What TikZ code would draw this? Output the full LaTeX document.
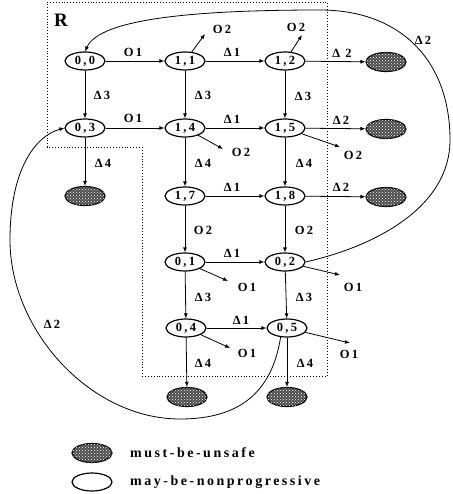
\documentclass[tikz,border=0pt]{standalone}
\usepackage{fontspec}
\setmainfont{Liberation Serif}
\newfontfamily\lblfont{Liberation Serif}[LetterSpace=18]
\newfontfamily\lgfont{Liberation Serif}[LetterSpace=18]
\usetikzlibrary{shapes.geometric,arrows.meta,patterns}
\begin{document}
\begin{tikzpicture}[x=1pt,y=-1pt,
  st/.style={ellipse, draw, line width=1.2pt, minimum width=40pt, minimum height=18pt, inner sep=0pt,
    font={\lblfont\bfseries\fontsize{12.5}{12.5}\selectfont}},
  bad/.style={ellipse, draw, line width=1.2pt, minimum width=40pt, minimum height=19pt, inner sep=0pt,
    fill=black!70, postaction={pattern=crosshatch dots, pattern color=white}},
  e/.style={-{Latex[length=5pt,width=4pt]}, line width=0.8pt},
  lb/.style={inner sep=0pt, font={\lblfont\bfseries\fontsize{12.5}{12.5}\selectfont}},
  lg/.style={inner sep=0pt, anchor=west, font={\lgfont\bfseries\fontsize{14}{14}\selectfont}},
  box/.style={dotted, line width=0.9pt}
]
\useasboundingbox (0,0) rectangle (452,494);
% region R
\draw[box] (47,2) -- (327,2) -- (327,376) -- (142,376) -- (142,147) -- (47,147) -- cycle;
\node[inner sep=0pt, font={\bfseries\fontsize{19}{19}\selectfont}] (R) at (61,20) {R};
% states
\node[st] (s00) at (85,61) {0,0};
\node[st] (s11) at (185,61) {1,1};
\node[st] (s12) at (285,61) {1,2};
\node[bad] (u1) at (386,62) {};
\node[st] (s03) at (85,128) {0,3};
\node[st] (s14) at (185,128) {1,4};
\node[st] (s15) at (285,128) {1,5};
\node[bad] (u2) at (386,129) {};
\node[bad] (u3) at (85,196) {};
\node[st] (s17) at (185,196) {1,7};
\node[st] (s18) at (285,196) {1,8};
\node[bad] (u4) at (386,197) {};
\node[st] (s01) at (185,262) {0,1};
\node[st] (s02) at (285,262) {0,2};
\node[st] (s04) at (186,328) {0,4};
\node[st] (s05) at (287,328) {0,5};
\node[bad] (u5) at (187,397) {};
\node[bad] (u6) at (287,397) {};
% free ends
\coordinate (t11) at (205,34);
\coordinate (t12) at (302,35);
\coordinate (t14) at (223,149);
\coordinate (t15) at (340,147);
\coordinate (t01) at (228,281);
\coordinate (t02) at (340,275);
\coordinate (t04) at (230,348);
\coordinate (t05) at (350,343);
% edges
\draw[e] (s00) -- (s11);
\draw[e] (s11) -- (s12);
\draw[e] (s12) -- (u1);
\draw[e] (s00) -- (s03);
\draw[e] (s11) -- (s14);
\draw[e] (s12) -- (s15);
\draw[e] (s03) -- (s14);
\draw[e] (s14) -- (s15);
\draw[e] (s15) -- (u2);
\draw[e] (s03) -- (u3);
\draw[e] (s14) -- (s17);
\draw[e] (s15) -- (s18);
\draw[e] (s17) -- (s18);
\draw[e] (s18) -- (u4);
\draw[e] (s17) -- (s01);
\draw[e] (s18) -- (s02);
\draw[e] (s01) -- (s02);
\draw[e] (s01) -- (s04);
\draw[e] (s02) -- (s05);
\draw[e] (s04) -- (s05);
\draw[e] (s04) -- (u5);
\draw[e] (s05) -- (u6);
\draw[e] (s11) -- (t11);
\draw[e] (s12) -- (t12);
\draw[e] (s14) -- (t14);
\draw[e] (s15) -- (t15);
\draw[e] (s01) -- (t01);
\draw[e] (s02) -- (t02);
\draw[e] (s04) -- (t04);
\draw[e] (s05) -- (t05);
% long curves
\draw[e] (s02.east) .. controls (380,245) and (450,205) .. (450,140)
   .. controls (450,60) and (400,10) .. (320,10)
   .. controls (200,10) and (100,18) .. (s00.north);
\draw[e] (s05.235) .. controls (272,392) and (240,419) .. (180,419)
   .. controls (90,419) and (10,330) .. (10,240)
   .. controls (10,170) and (35,136) .. (s03.west);
% labels
\node[lb] (l1) at (133,52) {O1};
\node[lb] (l2) at (232,52) {Δ1};
\node[lb] (l3) at (342,53) {Δ 2};
\node[lb] (l4) at (102,95) {Δ3};
\node[lb] (l5) at (203,95) {Δ3};
\node[lb] (l6) at (303,96) {Δ3};
\node[lb] (l7) at (133,118) {O1};
\node[lb] (l8) at (232,119) {Δ1};
\node[lb] (l9) at (341,120) {Δ2};
\node[lb] (l10) at (103,163) {Δ4};
\node[lb] (l11) at (203,163) {Δ4};
\node[lb] (l12) at (304,163) {Δ4};
\node[lb] (l13) at (232,187) {Δ1};
\node[lb] (l14) at (341,187) {Δ2};
\node[lb] (l15) at (203,230) {O2};
\node[lb] (l16) at (304,230) {O2};
\node[lb] (l17) at (232,253) {Δ1};
\node[lb] (l18) at (203,297) {Δ3};
\node[lb] (l19) at (304,297) {Δ3};
\node[lb] (l20) at (241,320) {Δ1};
\node[lb] (l21) at (203,363) {Δ4};
\node[lb] (l22) at (305,363) {Δ4};
\node[lb] (l23) at (423,40) {Δ2};
\node[lb] (l24) at (52,324) {Δ2};
\node[lb] (o11) at (222,29) {O2};
\node[lb] (o12) at (296,27) {O2};
\node[lb] (o14) at (241,152) {O2};
\node[lb] (o15) at (353,155) {O2};
\node[lb] (o01) at (247,287) {O1};
\node[lb] (o02) at (353,287) {O1};
\node[lb] (o04) at (247,353) {O1};
\node[lb] (o05) at (349,354) {O1};
% legend
\node[bad] (k1) at (92,453) {};
\node[st] (k2) at (92,482) {};
\node[lg] (k1t) at (130,453) {must-be-unsafe};
\node[lg] (k2t) at (130,482) {may-be-nonprogressive};
\end{tikzpicture}
\end{document}
